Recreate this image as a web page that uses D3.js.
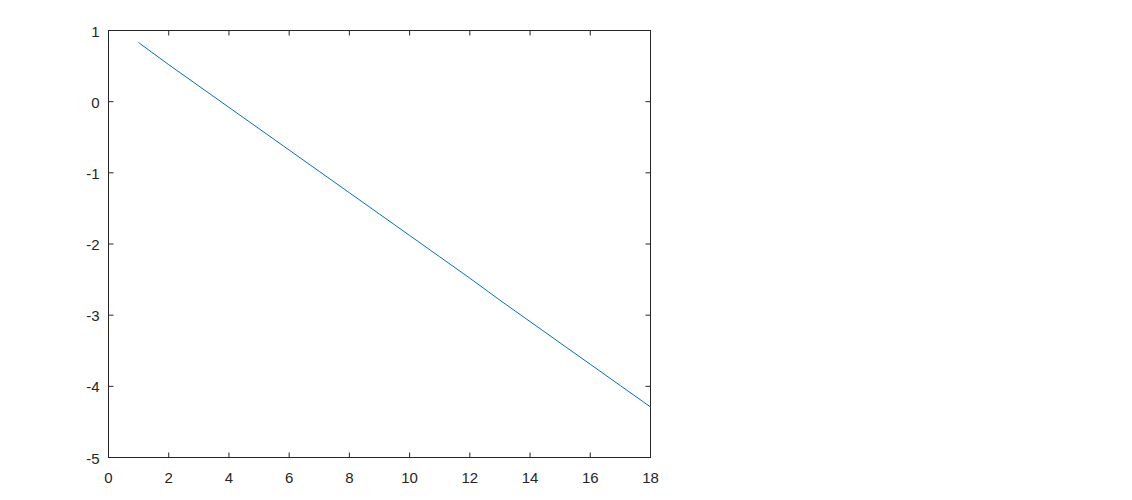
<!DOCTYPE html>
<html><head><meta charset="utf-8">
<script src="https://cdn.jsdelivr.net/npm/d3@7"></script>
<style>body{margin:0;background:#fff}svg{display:block}</style>
</head><body><svg id="c" width="1132" height="500"></svg>
<script>
const xValues = [1,2,3,4,5,6,7,8,9,10,11,12,13,14,15,16,17,18];
const yValues = [0.83,0.52,0.22,-0.08,-0.38,-0.68,-0.98,-1.28,-1.58,-1.88,-2.18,-2.48,-2.79,-3.09,-3.39,-3.69,-3.99,-4.29];
const xTicks = [0,2,4,6,8,10,12,14,16,18];
const yTicks = [-5,-4,-3,-2,-1,0,1];

const svg = d3.select('#c');
const L=108.5, R=650.5, T=30.5, B=457.5;
const x = d3.scaleLinear().domain([0,18]).range([L,R]);
const y = d3.scaleLinear().domain([-5,1]).range([B,T]);
const col='#262626', font='Arial, "Liberation Sans", sans-serif';

svg.append('rect').attr('x',L).attr('y',T).attr('width',R-L).attr('height',B-T)
  .attr('fill','#fff').attr('stroke',col).attr('stroke-width',1);

const g = svg.append('g');
const tl=5;
xTicks.forEach(t=>{
  g.append('line').attr('x1',x(t)).attr('x2',x(t)).attr('y1',B).attr('y2',B-tl).attr('stroke',col);
  g.append('line').attr('x1',x(t)).attr('x2',x(t)).attr('y1',T).attr('y2',T+tl).attr('stroke',col);
  g.append('text').attr('x',x(t)).attr('y',B+25).attr('text-anchor','middle')
    .attr('font-family',font).attr('font-size',15).attr('fill',col).text(t);
});
yTicks.forEach(t=>{
  g.append('line').attr('x1',L).attr('x2',L+tl).attr('y1',y(t)).attr('y2',y(t)).attr('stroke',col);
  g.append('line').attr('x1',R).attr('x2',R-tl).attr('y1',y(t)).attr('y2',y(t)).attr('stroke',col);
  g.append('text').attr('x',L-9).attr('y',y(t)+6).attr('text-anchor','end')
    .attr('font-family',font).attr('font-size',15).attr('fill',col).text(t);
});

const line = d3.line().x((d,i)=>x(xValues[i])).y(d=>y(d));
svg.append('path').datum(yValues).attr('d',line).attr('fill','none')
  .attr('stroke','#0072BD').attr('stroke-width',1);
</script></body></html>
